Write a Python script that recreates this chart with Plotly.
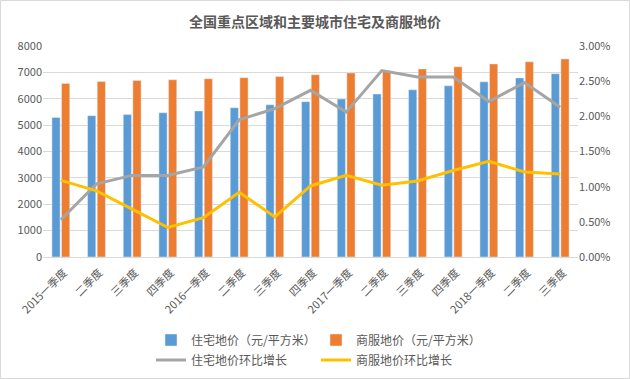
import plotly.graph_objects as go

categories = ["2015一季度", "二季度", "三季度", "四季度", "2016一季度", "二季度", "三季度", "四季度",
              "2017一季度", "二季度", "三季度", "四季度", "2018一季度", "二季度", "三季度"]
residential_price = [5290, 5360, 5400, 5470, 5540, 5660, 5770, 5890, 5990, 6180, 6340, 6490, 6640, 6790, 6950]
commercial_price = [6580, 6650, 6690, 6720, 6760, 6800, 6840, 6910, 6980, 7050, 7130, 7210, 7320, 7400, 7510]
residential_growth = [0.0053, 0.0104, 0.0116, 0.0116, 0.0128, 0.0195, 0.0211, 0.0237,
                      0.0206, 0.0265, 0.0256, 0.0256, 0.0221, 0.0248, 0.0213]
commercial_growth = [0.0109, 0.0094, 0.0068, 0.0042, 0.0056, 0.0092, 0.0057, 0.0101,
                     0.0116, 0.0102, 0.0108, 0.0123, 0.0136, 0.0121, 0.0118]

x_idx = list(range(len(categories)))
font_family = "Noto Sans CJK SC, Noto Sans, sans-serif"
grey_text = "#595959"

fig = go.Figure()
fig.add_trace(go.Bar(x=x_idx, y=residential_price, name="住宅地价（元/平方米）",
                     marker_color="#5B9BD5", legend="legend"))
fig.add_trace(go.Bar(x=x_idx, y=commercial_price, name="商服地价（元/平方米）",
                     marker_color="#ED7D31", legend="legend"))
fig.add_trace(go.Scatter(x=x_idx, y=residential_growth, name="住宅地价环比增长", yaxis="y2",
                         mode="lines", line=dict(color="#A5A5A5", width=3), legend="legend2"))
fig.add_trace(go.Scatter(x=x_idx, y=commercial_growth, name="商服地价环比增长", yaxis="y2",
                         mode="lines", line=dict(color="#FFC000", width=3), legend="legend2"))

L, R, T, B = 43, 52, 46, 122
W, H = 630, 379
pw, ph = W - L - R, H - T - B
leg_x = (151 - L) / pw

fig.update_layout(
    width=W, height=H,
    margin=dict(l=L, r=R, t=T, b=B, autoexpand=False),
    paper_bgcolor="white", plot_bgcolor="white",
    font=dict(family=font_family, size=11, color=grey_text),
    title=dict(text="<b>全国重点区域和主要城市住宅及商服地价</b>", x=0.5, xanchor="center",
               y=1 - 22 / H, yanchor="middle", font=dict(size=14, color=grey_text)),
    barmode="group", bargap=0.46, bargroupgap=0.15,
    xaxis=dict(tickmode="array", tickvals=x_idx, ticktext=categories, tickangle=-45,
               range=[-0.5, len(categories) - 0.5], showgrid=False, showline=True,
               linecolor="#d9d9d9", linewidth=1, ticks="", automargin=False,
               ticklabelstandoff=4, ticklabelshift=3,
               tickfont=dict(size=11, color=grey_text)),
    yaxis=dict(range=[0, 8000], dtick=1000, showgrid=True, gridcolor="#d9d9d9", gridwidth=1,
               zeroline=False, ticks="", automargin=False, tickfont=dict(size=11, color=grey_text)),
    yaxis2=dict(range=[0, 0.03], dtick=0.005, tickformat=".2%", overlaying="y", side="right",
                showgrid=False, zeroline=False, ticks="", automargin=False,
                tickfont=dict(size=11, color=grey_text)),
    legend=dict(orientation="h", x=leg_x, xanchor="left", y=(H - B - 340) / ph,
                yanchor="middle", entrywidth=120, entrywidthmode="pixels",
                font=dict(size=12, color=grey_text), bgcolor="rgba(0,0,0,0)",
                traceorder="normal", itemclick=False),
    legend2=dict(orientation="h", x=leg_x, xanchor="left", y=(H - B - 360) / ph,
                 yanchor="middle", entrywidth=120, entrywidthmode="pixels",
                 font=dict(size=12, color=grey_text), bgcolor="rgba(0,0,0,0)",
                 traceorder="normal", itemclick=False),
    shapes=[dict(type="rect", xref="paper", yref="paper",
                 x0=(0.5 - L) / pw, x1=(W - 0.5 - L) / pw,
                 y0=(H - B - (H - 0.5)) / ph, y1=(H - B - 0.5) / ph,
                 line=dict(color="#d9d9d9", width=1), fillcolor="rgba(0,0,0,0)", layer="below")],
)

fig.write_html("out.html", config={"displayModeBar": False},
               post_script="document.body.style.margin='0';document.body.style.overflow='hidden';")
